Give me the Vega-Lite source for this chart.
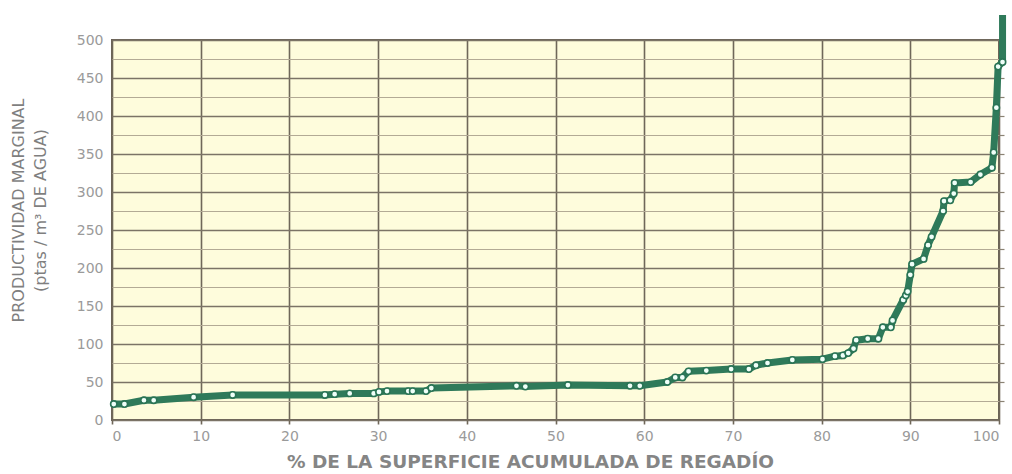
{
  "$schema": "https://vega.github.io/schema/vega-lite/v6.json",
  "width": 887,
  "height": 380,
  "autosize": {"type": "none"},
  "padding": {"left": 112, "top": 40, "right": 13, "bottom": 54},
  "background": "white",
  "config": {
    "view": {"fill": "#fefcdc", "stroke": "#6b6358", "strokeWidth": 2},
    "font": "DejaVu Sans"
  },
  "data": {
    "values": [
      {"i": 1, "x": 0.2, "y": 21, "m": true},
      {"i": 2, "x": 1.4, "y": 21, "m": true},
      {"i": 3, "x": 3.6, "y": 26, "m": true},
      {"i": 4, "x": 4.7, "y": 26, "m": true},
      {"i": 5, "x": 9.2, "y": 30, "m": true},
      {"i": 6, "x": 13.6, "y": 33, "m": true},
      {"i": 7, "x": 24.0, "y": 33, "m": true},
      {"i": 8, "x": 25.1, "y": 34, "m": true},
      {"i": 9, "x": 26.8, "y": 35, "m": true},
      {"i": 10, "x": 29.5, "y": 35, "m": true},
      {"i": 11, "x": 30.1, "y": 37, "m": true},
      {"i": 12, "x": 31.0, "y": 38, "m": true},
      {"i": 13, "x": 33.4, "y": 38, "m": true},
      {"i": 14, "x": 33.9, "y": 38, "m": true},
      {"i": 15, "x": 35.4, "y": 38, "m": true},
      {"i": 16, "x": 36.0, "y": 42, "m": true},
      {"i": 17, "x": 45.6, "y": 45, "m": true},
      {"i": 18, "x": 46.6, "y": 44, "m": true},
      {"i": 19, "x": 51.4, "y": 46, "m": true},
      {"i": 20, "x": 58.4, "y": 45, "m": true},
      {"i": 21, "x": 59.5, "y": 45, "m": true},
      {"i": 22, "x": 62.6, "y": 50, "m": true},
      {"i": 23, "x": 63.5, "y": 56, "m": true},
      {"i": 24, "x": 64.3, "y": 56, "m": true},
      {"i": 25, "x": 65.0, "y": 64, "m": true},
      {"i": 26, "x": 67.0, "y": 65, "m": true},
      {"i": 27, "x": 69.8, "y": 67, "m": true},
      {"i": 28, "x": 71.8, "y": 67, "m": true},
      {"i": 29, "x": 72.6, "y": 72, "m": true},
      {"i": 30, "x": 73.9, "y": 75, "m": true},
      {"i": 31, "x": 76.7, "y": 79, "m": true},
      {"i": 32, "x": 80.1, "y": 80, "m": true},
      {"i": 33, "x": 81.5, "y": 84, "m": true},
      {"i": 34, "x": 82.4, "y": 85, "m": true},
      {"i": 35, "x": 83.0, "y": 88, "m": true},
      {"i": 36, "x": 83.6, "y": 94, "m": true},
      {"i": 37, "x": 83.9, "y": 105, "m": true},
      {"i": 38, "x": 85.2, "y": 107, "m": true},
      {"i": 39, "x": 86.4, "y": 107, "m": true},
      {"i": 40, "x": 86.9, "y": 122, "m": true},
      {"i": 41, "x": 87.8, "y": 122, "m": true},
      {"i": 42, "x": 88.0, "y": 131, "m": true},
      {"i": 43, "x": 89.2, "y": 158, "m": true},
      {"i": 44, "x": 89.5, "y": 164, "m": true},
      {"i": 45, "x": 89.7, "y": 169, "m": true},
      {"i": 46, "x": 90.0, "y": 191, "m": true},
      {"i": 47, "x": 90.2, "y": 205, "m": true},
      {"i": 48, "x": 91.5, "y": 212, "m": true},
      {"i": 49, "x": 92.0, "y": 230, "m": true},
      {"i": 50, "x": 92.4, "y": 241, "m": true},
      {"i": 51, "x": 93.7, "y": 275, "m": true},
      {"i": 52, "x": 93.8, "y": 288, "m": true},
      {"i": 53, "x": 94.5, "y": 289, "m": true},
      {"i": 54, "x": 94.9, "y": 298, "m": true},
      {"i": 55, "x": 95.0, "y": 312, "m": true},
      {"i": 56, "x": 96.8, "y": 313, "m": true},
      {"i": 57, "x": 97.9, "y": 323, "m": true},
      {"i": 58, "x": 99.2, "y": 332, "m": true},
      {"i": 59, "x": 99.4, "y": 352, "m": true},
      {"i": 60, "x": 99.7, "y": 411, "m": true},
      {"i": 61, "x": 99.9, "y": 465, "m": true},
      {"i": 62, "x": 100.4, "y": 471, "m": true},
      {"i": 63, "x": 100.4, "y": 533, "m": false}
    ]
  },
  "layer": [
    {
      "mark": {"type": "line", "color": "#2f7a5a", "strokeWidth": 7, "strokeJoin": "round"},
      "encoding": {
        "x": {
          "field": "x",
          "type": "quantitative",
          "scale": {"domain": [0, 100], "nice": false, "zero": false},
          "axis": {
            "values": [0, 10, 20, 30, 40, 50, 60, 70, 80, 90, 100],
            "grid": true,
            "gridColor": "#6f6759",
            "gridWidth": 1.6,
            "ticks": true,
            "tickSize": 4,
            "tickColor": "#6f6759",
            "tickWidth": 1.6,
            "domain": false,
            "labelColor": "#9a9a9a",
            "labelFontSize": 14,
            "labelPadding": 5,
            "title": "% DE LA SUPERFICIE ACUMULADA DE REGADÍO",
            "titleFontSize": 18.5,
            "titleFontWeight": "bold",
            "titleColor": "#858585",
            "titlePadding": 9,
            "titleX": 418
          }
        },
        "y": {
          "field": "y",
          "type": "quantitative",
          "scale": {"domain": [0, 500], "nice": false},
          "axis": {
            "values": [0, 25, 50, 75, 100, 125, 150, 175, 200, 225, 250, 275, 300, 325, 350, 375, 400, 425, 450, 475, 500],
            "labelExpr": "datum.value % 50 === 0 ? datum.label : ''",
            "grid": true,
            "gridColor": {"condition": {"test": "datum.value % 50 === 0", "value": "#7b7366"}, "value": "#b3aa95"},
            "gridWidth": {"condition": {"test": "datum.value % 50 === 0", "value": 1.5}, "value": 1},
            "ticks": false,
            "domain": false,
            "labelColor": "#9a9a9a",
            "labelFontSize": 14,
            "labelPadding": 9,
            "title": ["PRODUCTIVIDAD MARGINAL", "(ptas / m³ DE AGUA)"],
            "titleFontSize": 16,
            "titleFontWeight": "normal",
            "titleColor": "#7f7f7f",
            "titleLineHeight": 22,
            "titlePadding": 28,
            "titleY": 170
          }
        },
        "order": {"field": "i", "type": "quantitative"}
      }
    },
    {
      "transform": [{"filter": "datum.m"}],
      "mark": {"type": "point", "filled": true, "fill": "#effff9", "stroke": "#2a7455", "strokeWidth": 1.6, "size": 40, "opacity": 1},
      "encoding": {
        "x": {"field": "x", "type": "quantitative"},
        "y": {
          "field": "y",
          "type": "quantitative",
          "axis": {
            "orient": "right",
            "values": [25, 50, 75, 100, 125, 150, 175, 200, 225, 250, 275, 300, 325, 350, 375, 400, 425, 450, 475],
            "labels": false,
            "ticks": true,
            "tickSize": 5,
            "tickColor": "#8a8274",
            "tickWidth": 1.2,
            "domain": false,
            "grid": false,
            "title": null
          }
        }
      }
    }
  ],
  "resolve": {"axis": {"y": "independent"}}
}
